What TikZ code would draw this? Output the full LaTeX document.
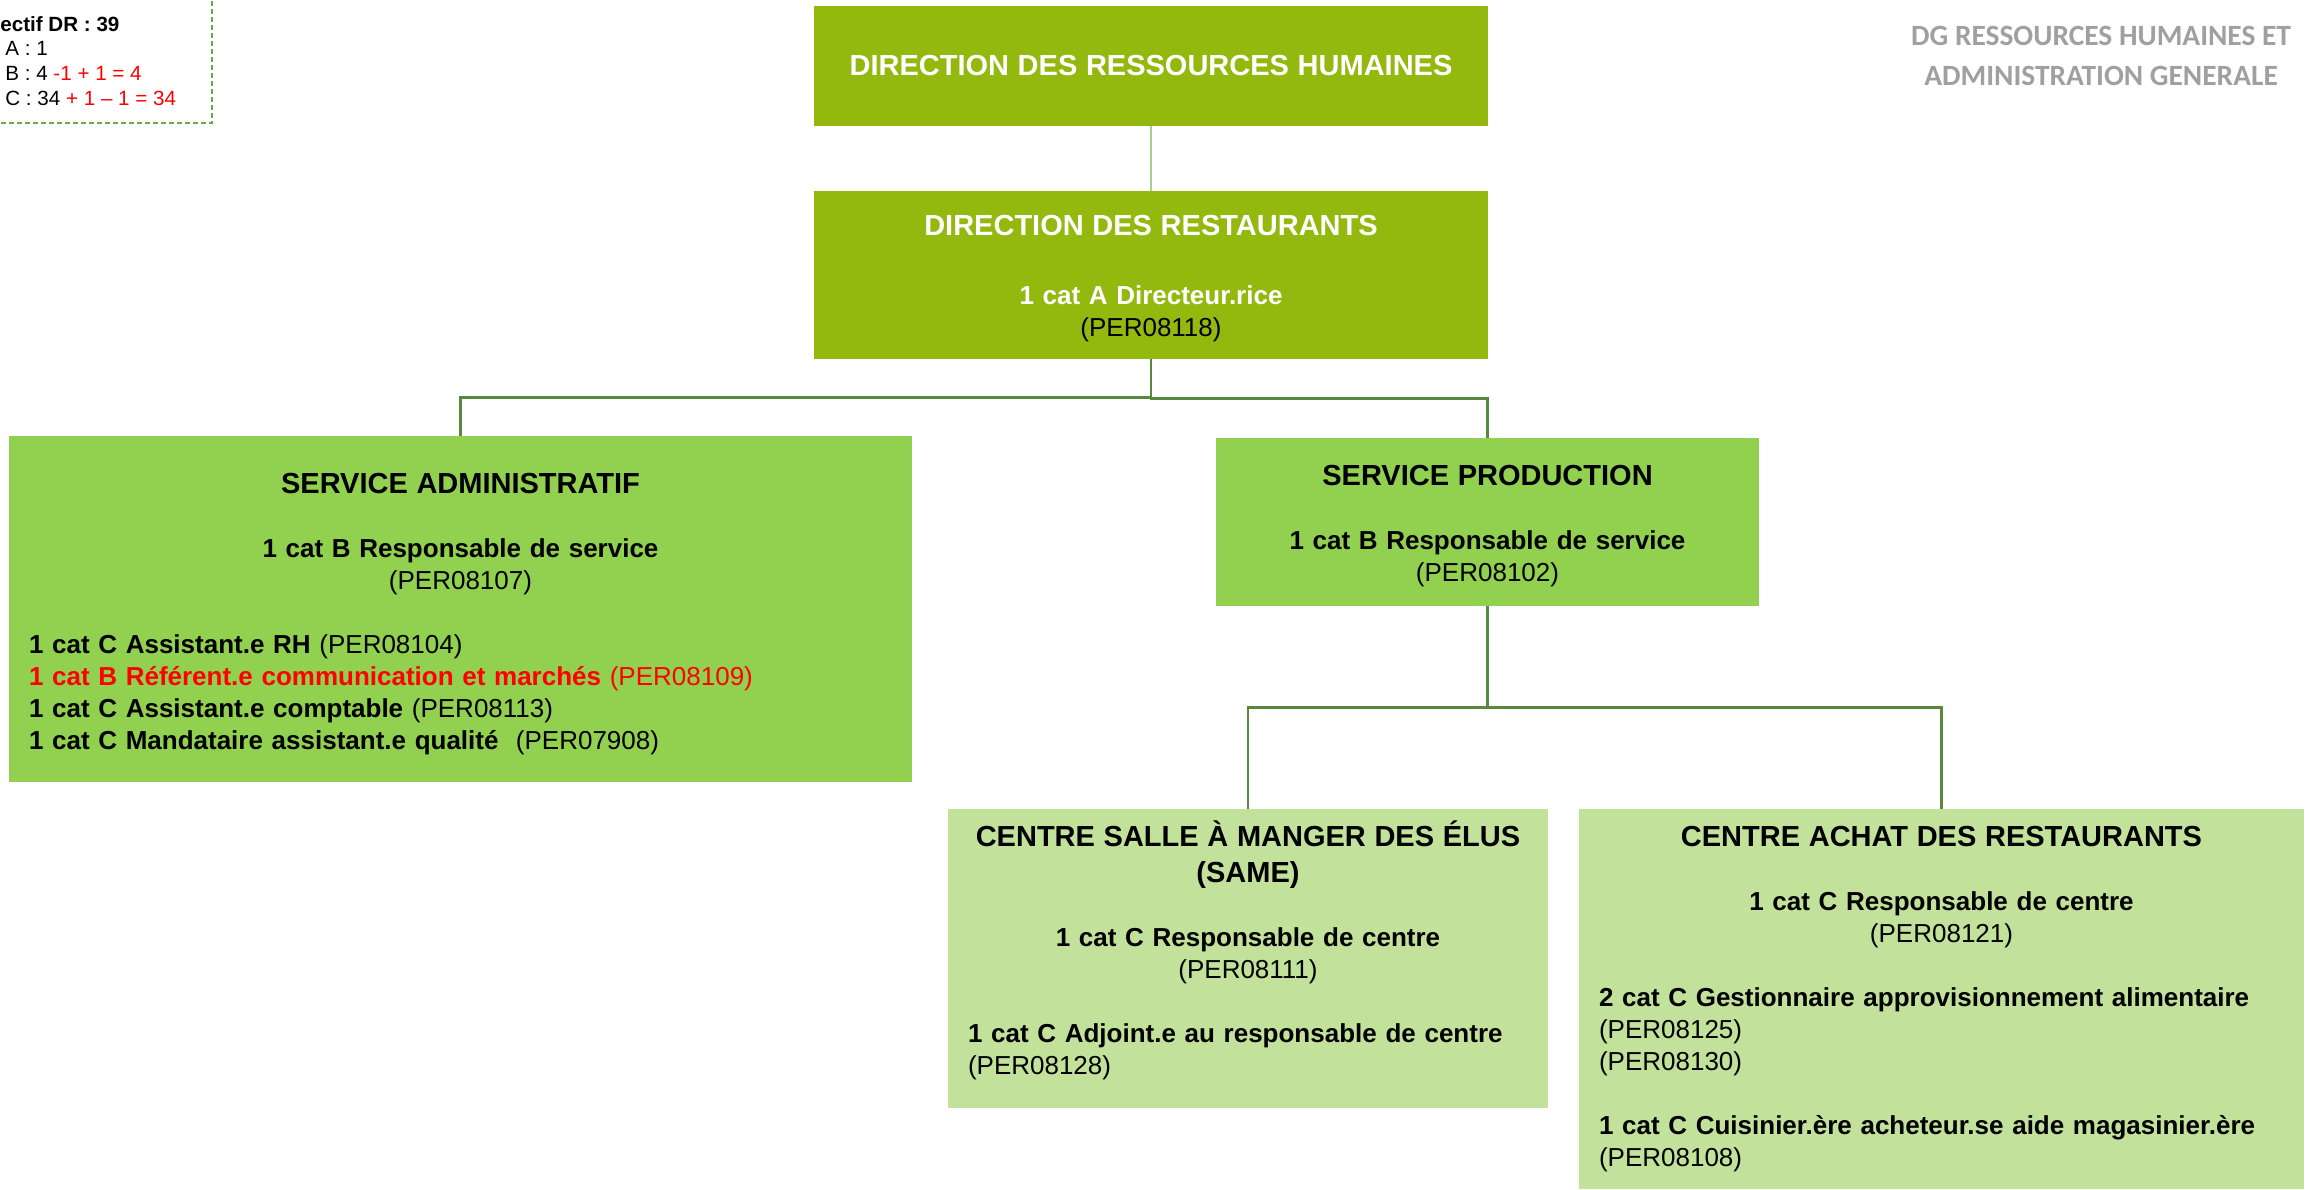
\documentclass[tikz,border=0pt]{standalone}
\usepackage{fontspec}
\setmainfont{Liberation Sans}
\newfontfamily\dgfont{Carlito}
\setlength{\parindent}{0pt}

\definecolor{dirgreen}{RGB}{147,184,14}
\definecolor{servgreen}{RGB}{146,208,80}
\definecolor{centgreen}{RGB}{194,225,154}
\definecolor{linkgreen}{RGB}{88,135,62}
\definecolor{toplink}{RGB}{169,208,142}
\definecolor{effgreen}{RGB}{112,168,72}
\definecolor{dggray}{RGB}{160,160,160}

\newcommand{\boxtitle}{\fontsize{14.5}{16}\selectfont\bfseries}
\newcommand{\lft}[1]{\makebox[\hsize][l]{#1}}
% strut pour decaler le texte dans la boite
\newcommand{\topgap}[1]{\rule{0pt}{#1}}
\newcommand{\botgap}[1]{\rule[-#1]{0pt}{0pt}}

\tikzset{
  orgbox/.style={inner xsep=10pt, inner ysep=0pt, align=center, font=\fontsize{13}{16}\selectfont},
  dirbox/.style={orgbox, fill=dirgreen, text=white, text width=317pt},
  servbox/.style={orgbox, fill=servgreen},
  centbox/.style={orgbox, fill=centgreen},
  link/.style={draw=linkgreen, line width=1.4pt},
  toplink/.style={draw=toplink, line width=0.7pt},
  effbox/.style={draw=effgreen, dash pattern=on 2.5pt off 1.5pt, line width=0.6pt}
}

\begin{document}
\begin{tikzpicture}[x=0.5pt, y=-0.5pt]
  \useasboundingbox (0,0) rectangle (2316,1189);

  % effectif
  \draw[effbox] (-30,-30) rectangle (212,123);
  \node[anchor=west, align=left, inner sep=0pt, font=\fontsize{10.3}{12.4}\selectfont] (eff) at (2,61)
    {\hspace*{-1pt}\textbf{ectif DR : 39}\\
     \hspace*{1.5pt}A : 1\\
     \hspace*{1.5pt}B : 4 \textcolor{red}{-1 + 1 = 4}\\
     \hspace*{1.5pt}C : 34 \textcolor{red}{+ 1 – 1 = 34}};

  \node[align=center, text=dggray, inner sep=0pt, font=\dgfont\bfseries\fontsize{14.7}{20}\selectfont] (dg) at (2101,56)
    {DG RESSOURCES HUMAINES ET\\ADMINISTRATION GENERALE};

  % directions
  \node[dirbox, minimum height=60pt] (drh) at (1151,66) {{\boxtitle DIRECTION DES RESSOURCES HUMAINES}};
  \node[dirbox, minimum height=84pt] (dr) at (1151,275)
    {\topgap{14pt}{\boxtitle DIRECTION DES RESTAURANTS}\\[18.5pt]
     \textbf{1 cat A Directeur.rice}\\
     \textcolor{black}{(PER08118)}};

  % services
  \node[servbox, text width=431.5pt, minimum height=173pt] (sa) at (460.5,609)
    {\topgap{14.8pt}{\boxtitle SERVICE ADMINISTRATIF}\\[16pt]
     \textbf{1 cat B Responsable de service}\\
     (PER08107)\\[16pt]
     \lft{\textbf{1 cat C Assistant.e RH} (PER08104)}\\
     \lft{\color{red}\textbf{1 cat B Référent.e communication et marchés} (PER08109)}\\
     \lft{\textbf{1 cat C Assistant.e comptable} (PER08113)}\\
     \lft{\textbf{1 cat C Mandataire assistant.e qualité}\ \ (PER07908)}};
  \node[servbox, text width=251.5pt, minimum height=84pt] (sp) at (1487.5,522)
    {\topgap{14pt}{\boxtitle SERVICE PRODUCTION}\\[16pt]
     \textbf{1 cat B Responsable de service}\\
     (PER08102)};

  % centres
  \node[centbox, text width=280pt, minimum height=149.5pt] (same) at (1248,958.5)
    {{\boxtitle CENTRE SALLE À MANGER DES ÉLUS\\[2pt](SAME)}\\[16pt]
     \textbf{1 cat C Responsable de centre}\\
     (PER08111)\\[16pt]
     \lft{\textbf{1 cat C Adjoint.e au responsable de centre}}\\
     \lft{(PER08128)\botgap{10.7pt}}};
  \node[centbox, text width=342.5pt, minimum height=190pt] (ca) at (1941.5,999)
    {{\boxtitle CENTRE ACHAT DES RESTAURANTS}\\[16pt]
     \textbf{1 cat C Responsable de centre}\\
     (PER08121)\\[16pt]
     \lft{\textbf{2 cat C Gestionnaire approvisionnement alimentaire}}\\
     \lft{(PER08125)}\\
     \lft{(PER08130)}\\[16pt]
     \lft{\textbf{1 cat C Cuisinier.ère acheteur.se aide magasinier.ère}}\\
     \lft{(PER08108)}};

  % liens
  \draw[toplink] (drh.south) -- (dr.north);
  \draw[link] (dr.south) -- ++(0,38) -| (sa.north);
  \draw[link] (dr.south) -- ++(0,39) -| (sp.north);
  \draw[link] (sp.south) -- ++(0,101) -| (same.north);
  \draw[link] (sp.south) -- ++(0,101) -| (ca.north);
\end{tikzpicture}
\end{document}
